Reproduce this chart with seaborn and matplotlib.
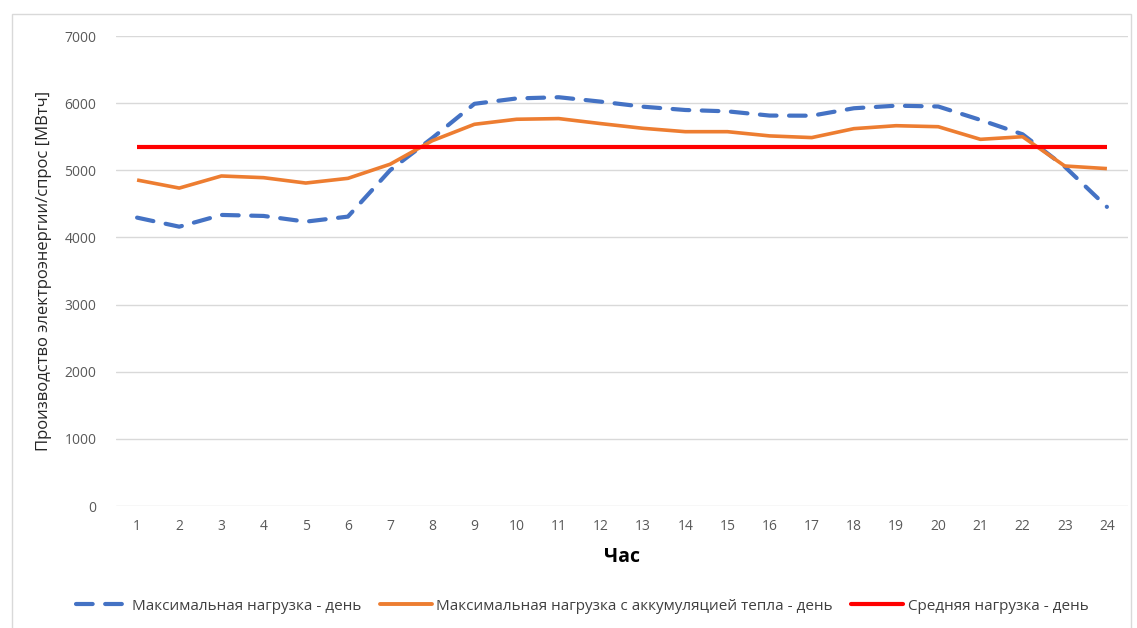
import matplotlib
matplotlib.use("Agg")
import matplotlib.pyplot as plt
import matplotlib.patches as mpatches
import seaborn as sns
import pandas as pd

hours = list(range(1, 25))
max_load = [4295, 4160, 4335, 4320, 4235, 4310, 5000, 5480, 5990, 6070, 6088, 6022,
            5947, 5898, 5878, 5815, 5813, 5924, 5962, 5950, 5750, 5536, 5054, 4455]
max_load_storage = [4855, 4735, 4915, 4890, 4810, 4880, 5090, 5440, 5685, 5760, 5770, 5695,
                    5625, 5575, 5575, 5512, 5487, 5620, 5664, 5649, 5461, 5500, 5064, 5025]
avg_load = [5347] * 24

lbl_max = "Максимальная нагрузка - день"
lbl_store = "Максимальная нагрузка с аккумуляцией тепла - день"
lbl_avg = "Средняя нагрузка - день"

df = pd.DataFrame({"Час": hours, lbl_max: max_load, lbl_store: max_load_storage, lbl_avg: avg_load})
long = df.melt(id_vars="Час", var_name="series", value_name="value")

sns.set_theme(style="white")
plt.rcParams["font.family"] = ["Open Sans", "DejaVu Sans"]

fig = plt.figure(figsize=(11.37, 6.28), dpi=100)
ax = fig.add_axes([116 / 1137, 1 - 506 / 628, (1128 - 116) / 1137, (506 - 36) / 628])

# outer chart frame
fig.patches.append(mpatches.Rectangle((12 / 1137, -0.01), (1131 - 12) / 1137, 1 - 14 / 628 + 0.01,
                                      transform=fig.transFigure, fill=False,
                                      edgecolor="#d9d9d9", linewidth=1))

palette = {lbl_max: "#4472C4", lbl_store: "#ED7D31", lbl_avg: "#FF0000"}
sns.lineplot(data=long, x="Час", y="value", hue="series", style="series",
             palette=palette, dashes={lbl_max: (4, 3), lbl_store: "", lbl_avg: ""},
             ax=ax, legend=False)
widths = {lbl_max: 3.0, lbl_store: 2.6, lbl_avg: 3.0}
for line, name in zip(ax.get_lines(), [lbl_max, lbl_store, lbl_avg]):
    line.set_linewidth(widths[name])
    line.set_dash_capstyle("round")
    line.set_solid_capstyle("butt")

ax.set_xlim(0.5, 24.5)
ax.set_ylim(0, 7000)
ax.set_xticks(hours)
ax.set_yticks(range(0, 7001, 1000))
ax.grid(axis="y", color="#d9d9d9", linewidth=1)
ax.set_axisbelow(True)
for s in ax.spines.values():
    s.set_visible(False)
ax.tick_params(axis="both", colors="#595959", labelsize=10, length=0)
ax.tick_params(axis="x", pad=9)
ax.tick_params(axis="y", pad=14)
ax.set_xlabel("Час", fontsize=14, fontweight="bold", color="black", labelpad=10)
ax.set_ylabel("Производство электроэнергии/спрос [МВтч]", fontsize=12, color="#262626", labelpad=9)

handles = [plt.Line2D([], [], color="#4472C4", lw=3, dashes=(4, 3), dash_capstyle="round"),
           plt.Line2D([], [], color="#ED7D31", lw=2.8),
           plt.Line2D([], [], color="#FF0000", lw=3)]
fig.legend(handles, [lbl_max, lbl_store, lbl_avg], loc="center",
           bbox_to_anchor=(582 / 1137, 1 - 606 / 628),
           ncol=3, frameon=False, fontsize=11, handlelength=3.4, handletextpad=0.3, columnspacing=1.2,
           labelcolor="#404040")

fig.savefig("out.png", dpi=100)
